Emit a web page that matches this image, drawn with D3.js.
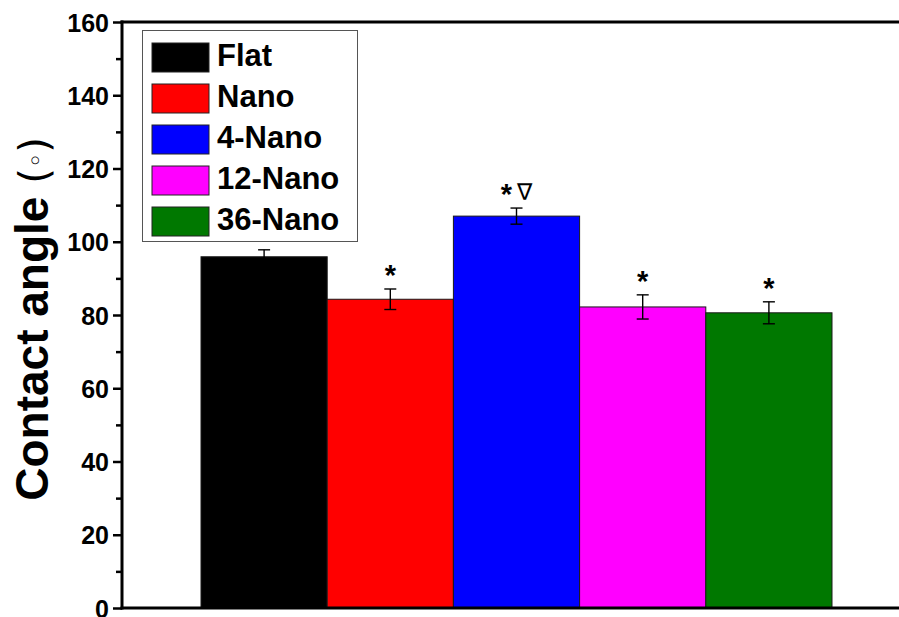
<!DOCTYPE html>
<html>
<head>
<meta charset="utf-8">
<script src="https://cdn.jsdelivr.net/npm/d3@7"></script>
<style>
  body { margin: 0; background: #fff; }
  svg { display: block; font-family: "Liberation Sans", Arial, sans-serif; }
</style>
</head>
<body>
<svg id="chart" width="899" height="617"></svg>
<script>
const categories = ["Flat", "Nano", "4-Nano", "12-Nano", "36-Nano"];
const values = [95.9, 84.3, 107.0, 82.2, 80.6];
const errors = [1.9, 2.8, 2.2, 3.3, 3.0];
const marks = ["", "*", "*\u2207", "*", "*"];
const colors = ["#000000", "#ff0000", "#0000ff", "#ff00ff", "#007800"];
const yTicks = [0, 20, 40, 60, 80, 100, 120, 140, 160];
const yMinor = [10, 30, 50, 70, 90, 110, 130, 150];

const svg = d3.select("#chart");
const axisLeftX = 122, axisRightX = 899, plotTop = 22, plotBottom = 608;
const barsLeft = 201, barsRight = 832;

const y = d3.scaleLinear().domain([0, 160]).range([plotBottom, plotTop]);
const x = d3.scaleBand().domain(categories).range([barsLeft, barsRight]).padding(0);

// bars
svg.append("g").selectAll("rect").data(categories).join("rect")
  .attr("x", d => x(d))
  .attr("y", (d, i) => y(values[i]))
  .attr("width", x.bandwidth())
  .attr("height", (d, i) => y(0) - y(values[i]))
  .attr("fill", (d, i) => colors[i])
  .attr("stroke", "#1a1a1a")
  .attr("stroke-width", 1);

// error bars
const eb = svg.append("g").attr("stroke", "#000").attr("stroke-width", 1.4);
categories.forEach((c, i) => {
  const cx = x(c) + x.bandwidth() / 2;
  const hi = y(values[i] + errors[i]), lo = y(values[i] - errors[i]);
  eb.append("line").attr("x1", cx).attr("x2", cx).attr("y1", hi).attr("y2", lo);
  eb.append("line").attr("x1", cx - 6).attr("x2", cx + 6).attr("y1", hi).attr("y2", hi);
  eb.append("line").attr("x1", cx - 6).attr("x2", cx + 6).attr("y1", lo).attr("y2", lo);
});

// significance marks
categories.forEach((c, i) => {
  if (!marks[i]) return;
  const cx = x(c) + x.bandwidth() / 2;
  const by = y(values[i] + errors[i]) - 4;
  const t = svg.append("text").attr("x", cx).attr("y", by).attr("text-anchor", "middle");
  marks[i].split("").forEach(p => {
    const ts = t.append("tspan").text(p);
    if (p === "*") ts.attr("font-size", 29).attr("font-weight", "bold");
    else ts.attr("font-size", 23).attr("dx", 5).attr("dy", -4).attr("font-family", "DejaVu Sans");
  });
});

// y axis major
const yAxis = svg.append("g").attr("transform", `translate(${axisLeftX},0)`)
  .call(d3.axisLeft(y).tickValues(yTicks).tickSize(9).tickPadding(4).tickFormat(d3.format("d")));
yAxis.select(".domain").remove();
yAxis.selectAll(".tick line").attr("stroke", "#000").attr("stroke-width", 2.5);
yAxis.selectAll(".tick text").attr("font-size", 25).attr("font-weight", "bold")
  .attr("font-family", "'Liberation Sans', Arial, sans-serif").attr("fill", "#000")
  .attr("dy", "0.36em");

// y axis minor
const yMin = svg.append("g").attr("transform", `translate(${axisLeftX},0)`)
  .call(d3.axisLeft(y).tickValues(yMinor).tickSize(6).tickFormat(""));
yMin.select(".domain").remove();
yMin.selectAll(".tick line").attr("stroke", "#000").attr("stroke-width", 2.5);

// frame lines
svg.append("line").attr("x1", axisLeftX).attr("x2", axisLeftX).attr("y1", plotTop - 1.5).attr("y2", plotBottom + 1.5)
  .attr("stroke", "#000").attr("stroke-width", 3);
svg.append("line").attr("x1", axisLeftX - 1.5).attr("x2", axisRightX).attr("y1", plotTop).attr("y2", plotTop)
  .attr("stroke", "#000").attr("stroke-width", 3);
svg.append("line").attr("x1", axisLeftX - 1.5).attr("x2", axisRightX).attr("y1", plotBottom).attr("y2", plotBottom)
  .attr("stroke", "#000").attr("stroke-width", 3);

// y label
const yl = svg.append("text")
  .attr("transform", `translate(48,319) rotate(-90)`)
  .attr("text-anchor", "middle")
  .attr("font-size", 46).attr("font-weight", "bold").attr("fill", "#000");
yl.append("tspan").text("Contact angle ");
yl.append("tspan").attr("font-weight", "normal").attr("font-family", "'DejaVu Sans'").attr("font-size", 40).text("(");
yl.append("tspan").attr("font-weight", "normal").attr("font-family", "'DejaVu Sans'").attr("font-size", 26).attr("dy", -3).text("\u25E6");
yl.append("tspan").attr("font-weight", "normal").attr("font-family", "'DejaVu Sans'").attr("font-size", 40).attr("dy", 3).text(")");

// legend
const lg = svg.append("g");
lg.append("rect").attr("x", 142.5).attr("y", 30.5).attr("width", 215).attr("height", 211)
  .attr("fill", "#fff").attr("stroke", "#555").attr("stroke-width", 1);
categories.forEach((c, i) => {
  const yy = 43 + i * 41;
  lg.append("rect").attr("x", 152).attr("y", yy).attr("width", 57).attr("height", 29)
    .attr("fill", colors[i]).attr("stroke", "#222").attr("stroke-width", 1);
  lg.append("text").attr("x", 217).attr("y", yy + 23).attr("font-size", 31).attr("font-weight", "bold")
    .attr("fill", "#000").text(c);
});
</script>
</body>
</html>
